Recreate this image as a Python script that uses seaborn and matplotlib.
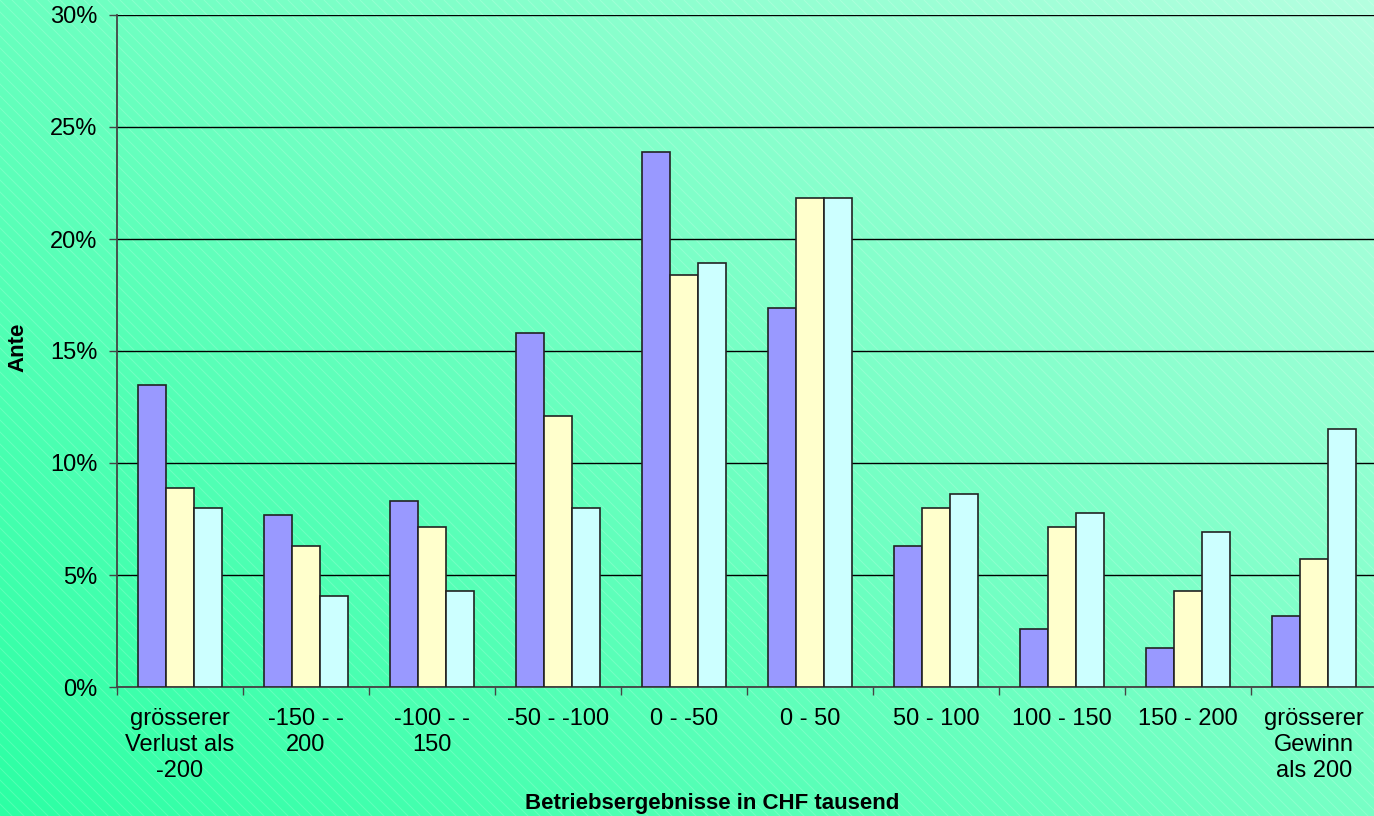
import matplotlib.pyplot as plt
import matplotlib.ticker as mticker
import numpy as np
import pandas as pd
import seaborn as sns

categories = [
    "grösserer\nVerlust als\n-200",
    "-150 - -\n200",
    "-100 - -\n150",
    "-50 - -100",
    "0 - -50",
    "0 - 50",
    "50 - 100",
    "100 - 150",
    "150 - 200",
    "grösserer\nGewinn\nals 200",
]
series_names = ["Serie 1", "Serie 2", "Serie 3"]
serie_1 = [13.5, 7.7, 8.3, 15.8, 23.9, 16.9, 6.3, 2.6, 1.75, 3.15]
serie_2 = [8.9, 6.3, 7.15, 12.1, 18.4, 21.85, 8.0, 7.15, 4.3, 5.7]
serie_3 = [8.0, 4.05, 4.3, 8.0, 18.95, 21.85, 8.6, 7.75, 6.9, 11.5]
colors = ["#9999FF", "#FFFFCC", "#CCFFFF"]

df = pd.DataFrame(
    {
        "Kategorie": categories * 3,
        "Serie": np.repeat(series_names, len(categories)),
        "Anteil": np.array(serie_1 + serie_2 + serie_3) / 100,
    }
)

sns.set_theme(style="white")
plt.rcParams["font.family"] = ["Liberation Sans", "DejaVu Sans"]
plt.rcParams["text.color"] = "black"

W, H = 1374, 816
fig = plt.figure(figsize=(W / 100, H / 100), dpi=100)

# background: diagonal green gradient with thin light stripes
bg = fig.add_axes([0, 0, 1, 1], zorder=0)
yy, xx = np.mgrid[0:1:200j, 0:1:300j]
t = 0.55 * xx + 0.45 * (1 - yy)
c0 = np.array([0x2C, 0xFF, 0xA4]) / 255
c1 = np.array([0xB4, 0xFF, 0xE0]) / 255
grad = c0[None, None, :] + t[..., None] * (c1 - c0)[None, None, :]
bg.imshow(grad, extent=[0, W, H, 0], aspect="auto", interpolation="bilinear")
for x0 in np.arange(-H, W, 12):
    bg.plot([x0, x0 + H], [0, H], color="white", alpha=0.18, lw=0.7)
bg.set_xlim(0, W)
bg.set_ylim(H, 0)
bg.axis("off")

ax = fig.add_axes([117 / W, 1 - 687 / H, 1260 / W, 672 / H], zorder=1)
ax.patch.set_alpha(0)

sns.barplot(
    data=df,
    x="Kategorie",
    y="Anteil",
    hue="Serie",
    palette=colors,
    saturation=1,
    width=0.667,
    gap=0,
    edgecolor="#222222",
    linewidth=1.2,
    legend=False,
    ax=ax,
    zorder=3,
)

ax.set_ylim(0, 0.30)
ax.set_xlim(-0.5, 9.5)
ax.yaxis.set_major_locator(mticker.MultipleLocator(0.05))
ax.yaxis.set_major_formatter(mticker.PercentFormatter(1, decimals=0))
ax.yaxis.grid(True, color="#000000", lw=1.0)
ax.set_axisbelow(True)

ax.set_xticks(range(len(categories)))
ax.set_xticks(np.arange(-0.5, 10, 1), minor=True)
ax.tick_params(axis="x", which="major", length=0, pad=15, labelsize=17, labelcolor="black")
ax.tick_params(axis="x", which="minor", length=6, width=1, color="#444444", direction="out")
ax.tick_params(axis="y", length=6, width=1, color="#444444", direction="out", pad=8,
               labelsize=17, labelcolor="black")
ax.tick_params(bottom=True, left=True, which="both")
ax.xaxis.set_ticks_position("bottom")
for lbl in ax.get_xticklabels():
    lbl.set_linespacing(1.25)

for s in ["top", "right"]:
    ax.spines[s].set_visible(False)
for s in ["left", "bottom"]:
    ax.spines[s].set_color("#444444")
    ax.spines[s].set_linewidth(1.3)

ax.set_xlabel(None)
ax.set_ylabel(None)

fig.text(712 / W, 1 - 804 / H, "Betriebsergebnisse in CHF tausend",
         ha="center", va="center", fontsize=16, fontweight="bold", color="black")
fig.text(18 / W, 1 - 347 / H, "Ante", rotation=90,
         ha="center", va="center", fontsize=16, fontweight="bold", color="black")

fig.savefig("out.png", dpi=100)
